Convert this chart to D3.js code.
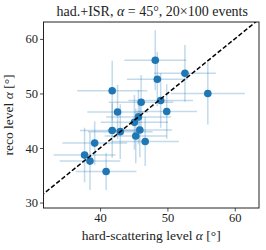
<!DOCTYPE html>
<html><head><meta charset="utf-8">
<script src="https://cdn.jsdelivr.net/npm/d3@7"></script>
<style>body{margin:0;background:#fff}svg{display:block}text{font-family:"Liberation Serif","DejaVu Serif",serif;fill:#222}</style>
</head><body>
<svg id="c" width="266" height="250"></svg>
<script>
const hardX = [48.2,52.6,48.5,41.8,56.0,46.1,49.0,42.6,49.9,45.7,45.1,41.8,43.0,45.9,45.3,46.7,39.2,37.7,38.5,40.9];
const recoY = [56.1,53.7,52.6,50.5,50.0,48.4,48.7,46.6,46.7,45.7,44.7,43.2,43.0,43.3,42.2,41.2,40.9,38.7,37.6,35.7];
const xErr  = [4.6,4.6,4.5,5.2,5.5,4.8,4.8,4.5,4.5,4.8,5.0,4.8,4.8,4.8,4.6,5.0,4.8,4.6,4.5,4.5];
const yErr  = [5.5,5.2,5.0,5.5,5.7,5.0,5.0,5.0,5.0,5.0,5.0,5.0,5.0,5.0,5.0,4.5,4.0,5.0,5.3,3.4];
const xTicks = [40,50,60];
const yTicks = [30,40,50,60];
const xDomain = [31.6,63.6];
const yDomain = [29.0,63.1];

const svg = d3.select("#c");
const L=43.5, R=259, T=22, B=208;
const x = d3.scaleLinear().domain(xDomain).range([L,R]);
const y = d3.scaleLinear().domain(yDomain).range([B,T]);
const pts = hardX.map((v,i)=>({x:v,y:recoY[i],xe:xErr[i],ye:yErr[i]}));

svg.append("defs").append("clipPath").attr("id","clip").append("rect")
  .attr("x",L).attr("y",T).attr("width",R-L).attr("height",B-T);
const g = svg.append("g").attr("clip-path","url(#clip)");

const eb = g.append("g").attr("stroke","#1f77b4").attr("stroke-opacity",0.27).attr("stroke-width",1.5);
pts.forEach(p=>{
  eb.append("line").attr("x1",x(p.x-p.xe)).attr("x2",x(p.x+p.xe)).attr("y1",y(p.y)).attr("y2",y(p.y));
  eb.append("line").attr("x1",x(p.x)).attr("x2",x(p.x)).attr("y1",y(p.y-p.ye)).attr("y2",y(p.y+p.ye));
});
g.selectAll("circle").data(pts).join("circle")
  .attr("cx",d=>x(d.x)).attr("cy",d=>y(d.y)).attr("r",3.8).attr("fill","#1f77b4");

g.append("line").attr("x1",x(25)).attr("y1",y(25)).attr("x2",x(70)).attr("y2",y(70))
  .attr("stroke","#000").attr("stroke-width",1.5).attr("stroke-dasharray","4.5,2.2");

const xa = svg.append("g").attr("transform",`translate(0,${B})`)
  .call(d3.axisBottom(x).tickValues(xTicks).tickSize(3.5).tickPadding(2).tickSizeOuter(0));
const ya = svg.append("g").attr("transform",`translate(${L},0)`)
  .call(d3.axisLeft(y).tickValues(yTicks).tickSize(3.5).tickPadding(2).tickSizeOuter(0));
[xa,ya].forEach(a=>{a.select(".domain").remove();a.selectAll("line").attr("stroke","#222").attr("stroke-width",0.8);
  a.selectAll("text").attr("font-size",12.5).attr("font-family","Liberation Serif").attr("fill","#333");});

svg.append("rect").attr("x",L).attr("y",T).attr("width",R-L).attr("height",B-T)
  .attr("fill","none").attr("stroke","#222").attr("stroke-width",1);

const title = svg.append("text").attr("x",(L+R)/2+1).attr("y",16).attr("text-anchor","middle").attr("font-size",14);
title.append("tspan").text("had.+ISR, ");
title.append("tspan").attr("font-style","italic").text("α");
title.append("tspan").text(" = 45°, 20×100 events");

const xl = svg.append("text").attr("x",(L+R)/2).attr("y",240).attr("text-anchor","middle").attr("font-size",13.5);
xl.append("tspan").text("hard-scattering level ");
xl.append("tspan").attr("font-style","italic").text("α");
xl.append("tspan").text(" [°]");

const yl = svg.append("text").attr("transform",`translate(13,${(T+B)/2}) rotate(-90)`).attr("text-anchor","middle").attr("font-size",13.5);
yl.append("tspan").text("reco level ");
yl.append("tspan").attr("font-style","italic").text("α");
yl.append("tspan").text(" [°]");
</script>
</body></html>
